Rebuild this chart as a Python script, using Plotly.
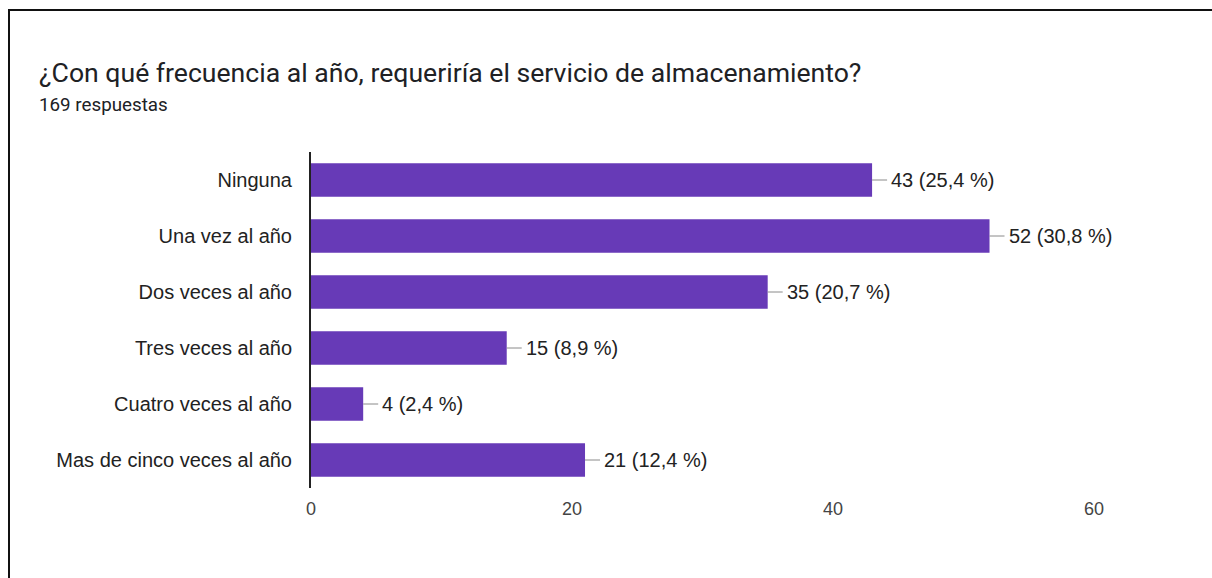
import plotly.graph_objects as go

# Survey responses
categories = ["Ninguna", "Una vez al año", "Dos veces al año", "Tres veces al año",
              "Cuatro veces al año", "Mas de cinco veces al año"]
counts = [43, 52, 35, 15, 4, 21]
total = 169
x_ticks = [0, 20, 40, 60]

title_text = "¿Con qué frecuencia al año, requeriría el servicio de almacenamiento?"
subtitle_text = f"{total} respuestas"

W, H = 1212, 578
L, R, T, B = 311, 92, 152, 90
PW, PH = W - L - R, H - T - B


def px_x(p):
    return (p - L) / PW


def px_y(p):
    return (H - B - p) / PH


BAR = "#673ab7"
SANS = "Liberation Sans, Arial, sans-serif"

fig = go.Figure(go.Bar(
    x=counts, y=categories, orientation="h",
    marker=dict(color=BAR, line=dict(width=0)),
    width=0.6, hoverinfo="skip",
))

# value labels with short leader lines
for cat, v in zip(categories, counts):
    pct = f"{v / total * 100:.1f}".replace(".", ",")
    fig.add_annotation(
        x=v, y=cat, xref="x", yref="y",
        text=f"{v} ({pct} %)",
        showarrow=True, arrowhead=0, arrowwidth=1, arrowcolor="#8a8a8a",
        ax=18, ay=0, xanchor="left", yanchor="middle",
        borderpad=0, standoff=0, startstandoff=3,
        font=dict(family=SANS, size=20, color="#222222"),
    )

# heading
fig.add_annotation(
    x=px_x(37), y=px_y(73), xref="paper", yref="paper",
    text=title_text, showarrow=False, xanchor="left", yanchor="middle",
    font=dict(family="Roboto, sans-serif", size=26.6, color="#202124"),
)
fig.add_annotation(
    x=px_x(37), y=px_y(105), xref="paper", yref="paper",
    text=subtitle_text, showarrow=False, xanchor="left", yanchor="middle",
    font=dict(family="Roboto, sans-serif", size=18.8, color="#202124"),
)

# frame around the card
fig.add_shape(type="line", xref="paper", yref="paper",
              x0=px_x(8), x1=px_x(W), y0=px_y(10), y1=px_y(10),
              line=dict(color="#111111", width=2))
fig.add_shape(type="line", xref="paper", yref="paper",
              x0=px_x(9), x1=px_x(9), y0=px_y(10), y1=px_y(H),
              line=dict(color="#111111", width=2))

fig.update_layout(
    width=W, height=H,
    margin=dict(l=L, r=R, t=T, b=B),
    paper_bgcolor="white", plot_bgcolor="white",
    showlegend=False, bargap=0.4,
    xaxis=dict(
        range=[0, 62], tickvals=x_ticks, showgrid=False, zeroline=False,
        showline=False, ticks="", ticklabelstandoff=8,
        tickfont=dict(family=SANS, size=18, color="#444444"),
    ),
    yaxis=dict(
        autorange="reversed", showgrid=False, zeroline=False,
        showline=True, linecolor="#222222", linewidth=2,
        ticks="", ticklabelstandoff=13,
        tickfont=dict(family=SANS, size=20, color="#222222"),
    ),
)

fig.write_html("out.html")
